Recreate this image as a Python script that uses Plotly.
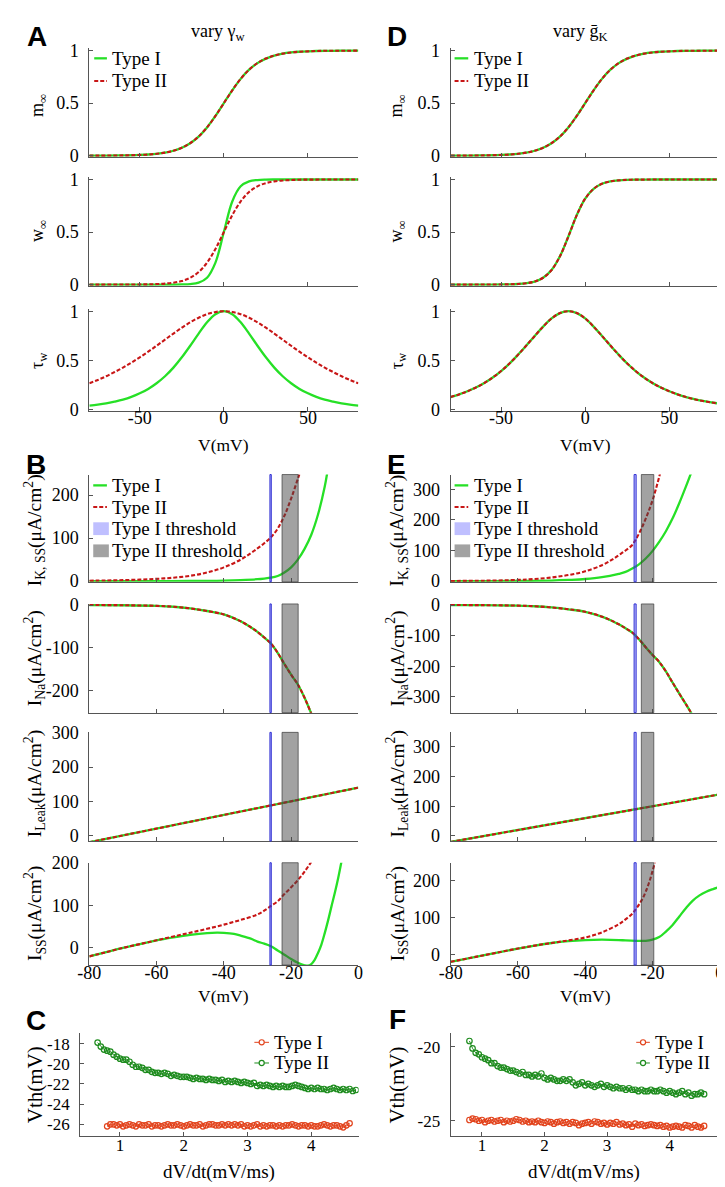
import plotly.graph_objects as go

W, H = 725, 1187
SERIF = "Liberation Serif, Times New Roman, serif"
SANS = "Liberation Sans, Arial, sans-serif"
GREEN = "#26e026"
RED = "#c81616"
BLUE = "#2f2fd2"
AXC = "#555555"

# ---------------- A / D : normalised gating curves ----------------
v_gate = [-80, -75, -70, -65, -60, -55, -50, -45, -40, -35, -30, -25, -20, -15, -10, -5,
          0, 5, 10, 15, 20, 25, 30, 35, 40, 45, 50, 55, 60, 65, 70, 75, 80]
m_inf = [0.0003, 0.0006, 0.0009, 0.0015, 0.0025, 0.0041, 0.0067, 0.011, 0.018, 0.029,
         0.047, 0.076, 0.119, 0.182, 0.269, 0.378, 0.5, 0.622, 0.731, 0.818, 0.881,
         0.924, 0.953, 0.971, 0.982, 0.989, 0.993, 0.996, 0.998, 0.998, 0.999, 0.999, 1.0]
w_inf_a1 = [0, 0, 0, 0, 0, 0, 0, 0, 0.0001, 0.0001,
            0.0003, 0.0013, 0.0048, 0.018, 0.065, 0.209, 0.5, 0.791, 0.935, 0.982, 0.995, 0.999,
            1, 1, 1, 1, 1, 1, 1, 1, 1, 1, 1]
w_inf_a2 = [0, 0, 0.0001, 0.0002, 0.0003, 0.0007, 0.0013, 0.0025, 0.0048, 0.0093,
            0.018, 0.034, 0.065, 0.119, 0.209, 0.339, 0.5, 0.661,
            0.791, 0.881, 0.935, 0.966, 0.982, 0.991, 0.995, 0.998,
            0.999, 0.999, 1, 1, 1, 1, 1]
tau_a1 = [0.037, 0.047, 0.060, 0.078, 0.099, 0.127, 0.163, 0.208, 0.266, 0.337, 0.425, 0.530,
          0.648, 0.772, 0.887, 0.970, 1.0, 0.970, 0.887, 0.772, 0.648, 0.530, 0.425, 0.337,
          0.266, 0.208, 0.163, 0.127, 0.099, 0.078, 0.060, 0.047, 0.037]
tau_a2 = [0.266, 0.299, 0.337, 0.380, 0.425, 0.476, 0.530, 0.587, 0.648, 0.710, 0.772, 0.832,
          0.887, 0.934, 0.970, 0.992, 1.0, 0.992, 0.970, 0.934, 0.887, 0.832, 0.772, 0.710,
          0.648, 0.587, 0.530, 0.476, 0.425, 0.380, 0.337, 0.299, 0.266]
w_inf_d = [0, 0, 0, 0.0001, 0.0002, 0.0005, 0.0011, 0.0025, 0.0056, 0.013,
           0.029, 0.065, 0.138, 0.269, 0.458, 0.661, 0.818, 0.911, 0.960, 0.982,
           0.992, 0.997, 0.999, 0.999, 1, 1, 1, 1, 1, 1, 1, 1, 1]
tau_d = [0.125, 0.152, 0.184, 0.222, 0.268, 0.324, 0.390, 0.467, 0.555, 0.650, 0.748, 0.843,
         0.926, 0.981, 1.0, 0.981, 0.926, 0.843, 0.748, 0.650, 0.555, 0.467, 0.390, 0.324,
         0.268, 0.222, 0.184, 0.152, 0.125, 0.103, 0.085, 0.070, 0.058]

# ---------------- B : steady-state currents, vary gamma_w ----------------
v_ik_b1 = [-80, -70, -60, -50, -45, -40, -35, -30, -28, -26, -24, -22, -20, -18, -16, -14, -12, -10, -9]
ik_b1 = [0, 0.05, 0.1, 0.3, 0.6, 1.2, 2.5, 4.5, 6, 8, 12, 20, 32, 50, 75, 108, 155, 220, 265]
v_ik_b2 = [-80, -75, -70, -65, -60, -55, -50, -45, -40, -35, -32, -30, -28, -26, -24, -22, -20, -18, -16]
ik_b2 = [1, 1.5, 2.3, 3.5, 5.3, 8, 12.5, 20, 32, 50, 65, 76, 88, 102, 122, 152, 192, 238, 285]
v_ina = [-80, -70, -60, -55, -50, -45, -40, -35, -32, -30, -28, -26, -24, -22, -20, -18, -16, -14, -12, -10, -8]
ina = [0, -0.5, -2, -4, -8, -14, -22, -38, -52, -63, -76, -90, -112, -138, -163, -186, -217, -254, -290, -325, -362]
v_leak = [-80, 0]
ileak = [-20, 140]
v_iss_b1 = [-80, -75, -70, -65, -60, -55, -50, -45, -42, -40, -37, -35, -32, -30, -28, -26, -24, -22,
            -20, -18, -16, -15, -14, -13, -12, -11, -10, -9, -8, -7, -6, -5]
iss_b1 = [-20, -10, 0, 9, 18, 25, 31, 35, 36, 35.5, 33, 29, 22, 15, 10, 4, -6, -16,
          -26, -35, -41, -42, -38, -28, -12, 8, 35, 65, 98, 130, 165, 205]
v_iss_b2 = [-80, -75, -70, -65, -60, -55, -50, -45, -40, -35, -30, -28, -26, -24, -22, -20, -18, -16, -14]
iss_b2 = [-20, -10, 0, 9, 18, 27, 36, 45, 55, 66, 79, 88, 99, 110, 127, 143, 160, 180, 203]

# ---------------- E : steady-state currents, vary gK ----------------
v_ik_e1 = [-80, -70, -60, -50, -45, -40, -35, -30, -28, -26, -24, -22, -20, -18, -16, -14, -12, -10, -8]
ik_e1 = [0, 0.2, 0.5, 2, 4, 7, 13, 24, 30, 41, 55, 74, 98, 128, 163, 205, 255, 310, 368]
v_ik_e2 = [-80, -70, -60, -55, -50, -45, -40, -35, -32, -30, -28, -26, -25, -24, -23, -22, -21, -20, -19, -18, -17]
ik_e2 = [0.5, 1.5, 4, 7, 12, 20, 32, 52, 70, 85, 100, 118, 135, 155, 178, 204, 232, 263, 300, 340, 385]
v_iss_e1 = [-80, -70, -60, -55, -50, -45, -40, -35, -30, -28, -25, -22, -20, -18, -16, -14, -12, -10,
            -8, -6, -4, -2, 0]
iss_e1 = [-20, -2, 16, 24, 31, 36, 39, 40, 39, 38, 37, 37, 40, 47, 62, 80, 103, 126, 146, 160, 170, 177, 183]
v_iss_e2 = [-80, -70, -60, -55, -50, -45, -40, -35, -30, -28, -26, -25, -24, -23, -22, -21, -20, -19]
iss_e2 = [-20, -2, 16, 24, 31, 38, 46, 60, 82, 95, 110, 122, 135, 150, 170, 195, 225, 260]

# ---------------- C / F : threshold vs dV/dt ----------------
dvdt_c = [0.65, 0.70, 0.75, 0.80, 0.85, 0.90, 0.95, 1.00, 1.05, 1.10,
          1.15, 1.20, 1.25, 1.30, 1.35, 1.40, 1.45, 1.50, 1.55, 1.60,
          1.65, 1.70, 1.75, 1.80, 1.85, 1.90, 1.95, 2.00, 2.05, 2.10,
          2.15, 2.20, 2.25, 2.30, 2.35, 2.40, 2.45, 2.50, 2.55, 2.60,
          2.65, 2.70, 2.75, 2.80, 2.85, 2.90, 2.95, 3.00, 3.05, 3.10,
          3.15, 3.20, 3.25, 3.30, 3.35, 3.40, 3.45, 3.50, 3.55, 3.60,
          3.65, 3.70, 3.75, 3.80, 3.85, 3.90, 3.95, 4.00, 4.05, 4.10,
          4.15, 4.20, 4.25, 4.30, 4.35, 4.40, 4.45, 4.50, 4.55, 4.60,
          4.65, 4.70]
vth_c2 = [-17.9, -18.3, -18.6, -18.7, -18.8, -19.1, -19.3, -19.5, -19.6, -19.6,
          -19.8, -20.1, -20.3, -20.3, -20.4, -20.6, -20.6, -20.8, -20.9, -20.9,
          -21.0, -20.9, -21.0, -21.2, -21.1, -21.2, -21.3, -21.3, -21.3, -21.4,
          -21.5, -21.4, -21.5, -21.5, -21.6, -21.5, -21.6, -21.6, -21.7, -21.6,
          -21.8, -21.7, -21.8, -21.7, -21.8, -21.9, -21.8, -21.9, -22.0, -21.9,
          -22.2, -22.1, -22.2, -22.1, -22.2, -22.3, -22.2, -22.3, -22.2, -22.3,
          -22.3, -22.2, -22.1, -22.2, -22.3, -22.4, -22.5, -22.4, -22.5, -22.4,
          -22.5, -22.5, -22.6, -22.5, -22.4, -22.5, -22.6, -22.5, -22.6, -22.5,
          -22.7, -22.6]
dvdt_c1 = dvdt_c[3:80]
vth_c1 = [-26.2, -26.0, -26.0, -26.1, -26.0, -26.2, -26.1, -26.0, -26.1, -26.2,
          -26.0, -26.1, -26.1, -26.0, -26.2, -26.1, -26.1, -26.2, -26.1, -26.0,
          -26.1, -26.1, -26.0, -26.1, -26.2, -26.1, -26.0, -26.1, -26.1, -26.0,
          -26.2, -26.1, -26.0, -26.0, -26.1, -26.1, -26.0, -26.1, -26.0, -26.1,
          -26.0, -26.1, -26.0, -26.2, -26.1, -26.2, -26.1, -26.0, -26.2, -26.1,
          -26.2, -26.1, -26.1, -26.2, -26.1, -26.2, -26.1, -26.1, -26.0, -26.1,
          -26.2, -26.1, -26.1, -26.2, -26.1, -26.2, -26.2, -26.1, -26.0, -26.1,
          -26.2, -26.1, -26.1, -26.2, -26.3, -26.1, -25.9]
dvdt_f = dvdt_c[3:79]
vth_f2 = [-19.6, -20.1, -20.4, -20.5, -20.7, -20.8, -20.9, -21.1, -21.1, -21.3,
          -21.4, -21.4, -21.5, -21.6, -21.6, -21.7, -21.8, -21.7, -21.9, -21.9,
          -22.0, -21.9, -22.0, -21.8, -22.1, -22.2, -22.1, -22.2, -22.3, -22.3,
          -22.2, -22.3, -22.2, -22.4, -22.6, -22.5, -22.4, -22.6, -22.5, -22.6,
          -22.7, -22.6, -22.5, -22.7, -22.6, -22.7, -22.8, -22.7, -22.8, -22.8,
          -22.9, -22.8, -22.9, -22.9, -23.0, -22.9, -23.0, -23.0, -22.9, -23.0,
          -23.0, -22.9, -23.0, -23.1, -23.0, -23.1, -23.2, -23.1, -23.0, -23.2,
          -23.1, -23.3, -23.2, -23.2, -23.1, -23.2]
vth_f1 = [-24.95, -24.85, -24.9, -25.0, -24.95, -25.1, -25.0, -24.95, -25.05, -25.0,
          -24.95, -25.1, -25.0, -25.05, -25.0, -24.9, -24.95, -25.05, -25.0, -25.1,
          -25.05, -25.1, -25.0, -25.1, -25.15, -25.05, -25.1, -25.2, -25.1, -25.05,
          -25.15, -25.1, -25.2, -25.1, -25.15, -25.3, -25.2, -25.15, -25.1, -25.2,
          -25.05, -25.1, -25.2, -25.15, -25.25, -25.15, -25.2, -25.1, -25.25, -25.2,
          -25.3, -25.25, -25.4, -25.2, -25.3, -25.25, -25.35, -25.3, -25.25, -25.3,
          -25.35, -25.3, -25.4, -25.35, -25.45, -25.4, -25.35, -25.4, -25.45, -25.3,
          -25.35, -25.45, -25.3, -25.4, -25.45, -25.35]

# ---------------- layout of the 16 panels (pixel boxes) ----------------
LEFT, RIGHT = (71, 346.5), (441, 716.5)
VT_A = [-50, 0, 50]
VT_B = [-80, -60, -40, -20, 0]
panels = [
    ("A1", LEFT, (32, 142), [-80, 80], [-0.01, 1.02], VT_A, [0, 0.5, 1], False),
    ("A2", LEFT, (163, 273), [-80, 80], [-0.01, 1.02], VT_A, [0, 0.5, 1], False),
    ("A3", LEFT, (297, 400), [-80, 80], [-0.013, 1.02], VT_A, [0, 0.5, 1], True),
    ("D1", RIGHT, (32, 142), [-80, 80], [-0.01, 1.02], VT_A, [0, 0.5, 1], False),
    ("D2", RIGHT, (163, 273), [-80, 80], [-0.01, 1.02], VT_A, [0, 0.5, 1], False),
    ("D3", RIGHT, (297, 400), [-80, 80], [-0.013, 1.02], VT_A, [0, 0.5, 1], True),
    ("B1", LEFT, (465, 574), [-80, 0], [-1.6, 248], VT_B, [0, 100, 200], False),
    ("B2", LEFT, (596.5, 707), [-80, 0], [-252, 2.5], VT_B, [-200, -100, 0], False),
    ("B3", LEFT, (727, 837.5), [-80, 0], [-16.7, 302], VT_B, [0, 100, 200, 300], False),
    ("B4", LEFT, (859.5, 963.5), [-80, 0], [-40.5, 201], VT_B, [0, 100, 200], True),
    ("E1", RIGHT, (465, 574), [-80, 0], [-2.2, 348], VT_B, [0, 100, 200, 300], False),
    ("E2", RIGHT, (596.5, 707), [-80, 0], [-352, 3.5], VT_B, [-300, -200, -100, 0], False),
    ("E3", RIGHT, (727, 837.5), [-80, 0], [-17.2, 348.7], VT_B, [0, 100, 200, 300], False),
    ("E4", RIGHT, (859.5, 963.5), [-80, 0], [-28.8, 248.5], VT_B, [0, 100, 200], True),
    ("C", (61.5, 346.7), (1032.5, 1137), [0.375, 4.741], [-27.14, -16.95], [1, 2, 3, 4],
     [-26, -24, -22, -20, -18], True),
    ("F", (441, 716.3), (1033, 1137), [0.5, 4.796], [-26.02, -19.09], [1, 2, 3, 4], [-25, -20], True),
]

AX = dict(showline=True, linecolor=AXC, linewidth=1, ticks="inside", ticklen=4, tickcolor=AXC,
          showgrid=False, zeroline=False)

fig = go.Figure()
axes = {}
for i, (key, xs, ys, xr, yr, xt, yt, xlab) in enumerate(panels, start=1):
    sfx = "" if i == 1 else str(i)
    axes[key] = ("x" + sfx, "y" + sfx)
    bottom = key in ("C", "F")
    tf = dict(family=SERIF, size=17 if bottom else 18, color="black")
    fig.update_layout(**{
        "xaxis" + sfx: dict(domain=[xs[0] / W, xs[1] / W], range=xr, anchor="y" + sfx,
                            tickvals=xt, ticktext=[f"{v:g}" for v in xt], showticklabels=xlab,
                            ticklabelstandoff=-6 if bottom else -9, tickfont=tf, **AX),
        "yaxis" + sfx: dict(domain=[1 - ys[1] / H, 1 - ys[0] / H], range=yr, anchor="x" + sfx,
                            tickvals=yt, ticktext=[f"{v:g}" for v in yt], ticklabelstandoff=6,
                            tickfont=tf, **AX),
    })

LINE1 = dict(color=GREEN, width=2.3)
LINE2 = dict(color=RED, width=2.1, dash="4px,2px")


def curve(key, x, y, typ):
    xa, ya = axes[key]
    line = dict(LINE1 if typ == 1 else LINE2, shape="spline")
    fig.add_trace(go.Scatter(x=x, y=y, mode="lines", line=line, name="Type I" if typ == 1 else "Type II",
                             xaxis=xa, yaxis=ya, showlegend=False, hoverinfo="skip"))


# A
curve("A1", v_gate, m_inf, 1)
curve("A1", v_gate, m_inf, 2)
curve("A2", v_gate, w_inf_a1, 1)
curve("A2", v_gate, w_inf_a2, 2)
curve("A3", v_gate, tau_a1, 1)
curve("A3", v_gate, tau_a2, 2)
# D
curve("D1", v_gate, m_inf, 1)
curve("D1", v_gate, m_inf, 2)
curve("D2", v_gate, w_inf_d, 1)
curve("D2", v_gate, w_inf_d, 2)
curve("D3", v_gate, tau_d, 1)
curve("D3", v_gate, tau_d, 2)
# B
curve("B1", v_ik_b1, ik_b1, 1)
curve("B1", v_ik_b2, ik_b2, 2)
curve("B2", v_ina, ina, 1)
curve("B2", v_ina, ina, 2)
curve("B3", v_leak, ileak, 1)
curve("B3", v_leak, ileak, 2)
curve("B4", v_iss_b1, iss_b1, 1)
curve("B4", v_iss_b2, iss_b2, 2)
# E
curve("E1", v_ik_e1, ik_e1, 1)
curve("E1", v_ik_e2, ik_e2, 2)
curve("E2", v_ina, ina, 1)
curve("E2", v_ina, ina, 2)
curve("E3", v_leak, ileak, 1)
curve("E3", v_leak, ileak, 2)
curve("E4", v_iss_e1, iss_e1, 1)
curve("E4", v_iss_e2, iss_e2, 2)

# threshold bands (range of Vth from C / F)
BAND1 = dict(fill="rgba(60,60,255,0.33)", line=BLUE)
BAND2 = dict(fill="rgba(70,70,70,0.5)", line="rgba(60,60,60,0.7)")
for keys, t1, t2 in ((("B1", "B2", "B3", "B4"), vth_c1, vth_c2),
                     (("E1", "E2", "E3", "E4"), vth_f1, vth_f2)):
    for key in keys:
        xa, ya = axes[key]
        for vals, st in ((t1, BAND1), (t2, BAND2)):
            fig.add_shape(type="rect", xref=xa, yref=ya + " domain", x0=min(vals), x1=max(vals),
                          y0=0, y1=1, fillcolor=st["fill"], line=dict(color=st["line"], width=1),
                          layer="above")

# C / F
CRED, CGREEN = "#e2431c", "#1e8c1e"
for key, xs1, ys1, xs2, ys2 in (("C", dvdt_c1, vth_c1, dvdt_c, vth_c2),
                                ("F", dvdt_f, vth_f1, dvdt_f, vth_f2)):
    xa, ya = axes[key]
    for xs, ys, col, name in ((xs1, ys1, CRED, "Type I"), (xs2, ys2, CGREEN, "Type II")):
        fig.add_trace(go.Scatter(x=xs, y=ys, mode="lines+markers", name=name, xaxis=xa, yaxis=ya,
                                 line=dict(color=col, width=1), showlegend=False,
                                 marker=dict(symbol="circle-open", size=5.5, color=col, line=dict(width=1.2)),
                                 hoverinfo="skip"))


def note(text, x, y, size=18, angle=0, family=SERIF, anchor="center"):
    fig.add_annotation(text=text, x=x / W, y=1 - y / H, xref="paper", yref="paper", showarrow=False,
                       xanchor=anchor, yanchor="middle", textangle=angle,
                       font=dict(family=family, size=size, color="black"))


# MATLAB-style legends: short sample + label
def legend_box(items, xs0, xs1, ys):
    for (label, kind, st), yc in zip(items, ys):
        yp = 1 - yc / H
        if kind == "line":
            fig.add_shape(type="line", xref="paper", yref="paper", x0=xs0 / W, x1=xs1 / W, y0=yp, y1=yp,
                          line=st)
        elif kind == "patch":
            fig.add_shape(type="rect", xref="paper", yref="paper", x0=xs0 / W, x1=(xs1 + 2) / W,
                          y0=1 - (yc + 6.5) / H, y1=1 - (yc - 6.5) / H, fillcolor=st, line_width=0)
        else:
            fig.add_shape(type="line", xref="paper", yref="paper", x0=xs0 / W, x1=xs1 / W, y0=yp, y1=yp,
                          line=dict(color=st, width=1))
            cx = (xs0 + xs1) / 2
            fig.add_shape(type="circle", xref="paper", yref="paper", x0=(cx - 2.6) / W, x1=(cx + 2.6) / W,
                          y0=1 - (yc + 2.6) / H, y1=1 - (yc - 2.6) / H, fillcolor="white",
                          line=dict(color=st, width=1.2))
        note(label, xs1 + 3.5, yc, size=19, anchor="left")


two = [("Type I", "line", LINE1), ("Type II", "line", LINE2)]
four = two + [("Type I threshold", "patch", BAND1["fill"]), ("Type II threshold", "patch", BAND2["fill"])]
cf = [("Type I", "marker", CRED), ("Type II", "marker", CGREEN)]
legend_box(two, 76, 89, (42, 65))
legend_box(two, 445, 459, (42, 65))
legend_box(four, 75, 89, (476, 498, 520, 542.5))
legend_box(four, 445, 459, (476, 498, 520, 542.5))
legend_box(cf, 240, 255, (1042, 1063))
legend_box(cf, 631, 645, (1042, 1063))

# panel letters and titles
for letter, x, y in (("A", 17, 20), ("B", 16, 455), ("C", 16, 1020),
                     ("D", 386, 20), ("E", 386, 455), ("F", 387, 1019)):
    note("<b>" + letter + "</b>", x, y, size=28, family=SANS)
note("vary γ<sub>w</sub>", 203, 16)
note("vary ḡ<sub>K</sub>", 574, 16)

# axis titles
for xc, yc in ((208, 435), (579, 435), (208.5, 995), (579, 995)):
    note("V(mV)", xc, yc, size=17.5)
note("dV/dt(mV/ms)", 204, 1174, size=19)
note("dV/dt(mV/ms)", 578, 1174, size=19)
for xl in (19, 387):
    note("m<sub>∞</sub>", xl, 90, angle=-90)
    note("w<sub>∞</sub>", xl, 218, angle=-90)
    note("τ<sub>w</sub>", xl, 349, angle=-90)
for xl in (15, 386):
    note("I<sub>K, SS</sub>(μA/cm<sup>2</sup>)", xl, 522, size=19.5, angle=-90)
    note("I<sub>Na</sub>(μA/cm<sup>2</sup>)", xl, 652, size=19.5, angle=-90)
    note("I<sub>Leak</sub>(μA/cm<sup>2</sup>)", xl, 779, size=19.5, angle=-90)
    note("I<sub>SS</sub>(μA/cm<sup>2</sup>)", xl, 911, size=19.5, angle=-90)
note("Vth(mV)", 15, 1085, size=21, angle=-90)
note("Vth(mV)", 386, 1085, size=21, angle=-90)

fig.update_layout(width=W, height=H, margin=dict(l=0, r=0, t=0, b=0),
                  plot_bgcolor="white", paper_bgcolor="white", showlegend=False)

fig.write_html("out.html")
